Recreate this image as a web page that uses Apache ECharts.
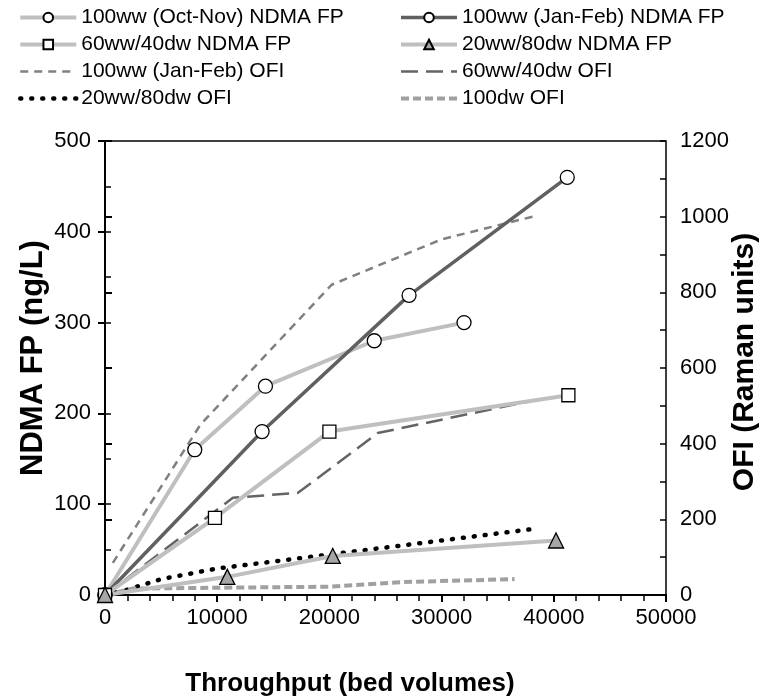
<!DOCTYPE html>
<html>
<head>
<meta charset="utf-8">
<script src="https://cdn.jsdelivr.net/npm/echarts@6/dist/echarts.min.js"></script>
<style>
html, body { margin: 0; padding: 0; background: #fff; }
#main { width: 768px; height: 698px; }
</style>
</head>
<body>
<div id="main"></div>
<script>
// NDMA FP (left axis, ng/L) vs throughput (bed volumes)
var ww100OctNdma = [[0, 0], [8000, 160], [14300, 230], [24000, 280], [32000, 300]];
var ww100JanNdma = [[0, 0], [14000, 180], [27100, 330], [41200, 460]];
var ww60Ndma = [[0, 0], [9800, 85], [20000, 180], [41300, 220]];
var ww20Ndma = [[0, 0], [10900, 20], [20300, 43], [40200, 60]];

// OFI (right axis, Raman units)
var ww100JanOfi = [[700, 85], [8500, 450], [20200, 820], [30000, 940], [38100, 1000]];
var ww60Ofi = [[0, 0], [11400, 257], [17200, 270], [24300, 428], [38800, 518]];
var ww20Ofi = [[0, 0], [2000, 14], [5000, 42], [10000, 70], [20000, 107], [30000, 144], [38300, 175]];
var dw100Ofi = [[0, 0], [2500, 17], [20000, 22], [26300, 34], [36500, 42]];

var names = [
    '100ww (Oct-Nov) NDMA FP', '100ww (Jan-Feb) NDMA FP',
    '60ww/40dw NDMA FP', '20ww/80dw NDMA FP',
    '100ww (Jan-Feb) OFI', '60ww/40dw OFI',
    '20ww/80dw OFI', '100dw OFI'
];

var font = 'Liberation Sans, Arial, sans-serif';
var axisColor = '#000';

var lineSeries = function (name, data, yIdx, color, width, type, symbol, size, fill) {
    return {
        name: name,
        type: 'line',
        data: data,
        yAxisIndex: yIdx,
        symbol: symbol || 'none',
        symbolSize: size || 0,
        showSymbol: !!symbol,
        animation: false,
        lineStyle: { color: color, width: width, type: type || 'solid', cap: type && type[0] === 1 ? 'round' : 'butt' },
        itemStyle: { color: fill || '#fff', borderColor: '#000', borderWidth: 1.3 },
        z: symbol ? 3 : 2
    };
};

// legend entries for the OFI lines carry no marker
var noMark = function (name) {
    return { name: name, itemStyle: { opacity: 0 } };
};

var plain = function (v) { return String(v); };

var legendText = { fontSize: 21, color: '#000', fontFamily: font };
var legendLine = { width: 'inherit', type: 'inherit', cap: 'inherit', color: 'inherit' };

var option = {
    backgroundColor: '#fff',
    textStyle: { fontFamily: font },
    grid: {
        left: 105, right: 102, top: 141, bottom: 103,
        outerBoundsMode: 'none',
        show: true, borderColor: '#000', borderWidth: 1.5, backgroundColor: 'transparent'
    },
    legend: [
        {
            orient: 'vertical', left: 13, top: 2, itemWidth: 56, itemHeight: 12, itemGap: 6,
            data: [names[0], names[2], noMark(names[4]), noMark(names[6])],
            textStyle: legendText, lineStyle: legendLine
        },
        {
            orient: 'vertical', left: 394, top: 2, itemWidth: 56, itemHeight: 12, itemGap: 6,
            data: [names[1], names[3], noMark(names[5]), noMark(names[7])],
            textStyle: legendText, lineStyle: legendLine
        }
    ],
    graphic: [
        {
            type: 'text', x: 33, y: 358, rotation: Math.PI / 2,
            style: { text: 'NDMA FP (ng/L)', font: 'bold 31px ' + font, fill: '#000', align: 'center', verticalAlign: 'middle' }
        },
        {
            type: 'text', x: 745, y: 362, rotation: Math.PI / 2,
            style: { text: 'OFI (Raman units)', font: 'bold 30px ' + font, fill: '#000', align: 'center', verticalAlign: 'middle' }
        },
        {
            type: 'text', x: 350, y: 684,
            style: { text: 'Throughput (bed volumes)', font: 'bold 26px ' + font, fill: '#000', align: 'center', verticalAlign: 'middle' }
        }
    ],
    xAxis: [
        {
            type: 'value', min: 0, max: 50000, interval: 10000,
            axisLine: { lineStyle: { color: axisColor, width: 2 } },
            axisTick: { length: 7, lineStyle: { color: axisColor, width: 2 } },
            axisLabel: { fontSize: 22, color: '#000', margin: 12, fontFamily: font, formatter: plain },
            splitLine: { show: false }
        },
        {
            type: 'value', min: 0, max: 50000, interval: 2000,
            axisLine: { show: false },
            axisTick: { inside: true, length: 6, lineStyle: { color: axisColor, width: 1.5 } },
            axisLabel: { show: false },
            splitLine: { show: false }
        }
    ],
    yAxis: [
        {
            type: 'value', min: 0, max: 500, interval: 100, position: 'left',
            axisLine: { show: true, lineStyle: { color: axisColor, width: 2 } },
            axisTick: { show: true, length: 7, lineStyle: { color: axisColor, width: 2 } },
            axisLabel: { fontSize: 22, color: '#000', margin: 14, fontFamily: font, formatter: plain },
            splitLine: { show: false }
        },
        {
            type: 'value', min: 0, max: 1200, interval: 200, position: 'right',
            axisLine: { show: true, lineStyle: { color: axisColor, width: 2 } },
            axisTick: { show: true, length: 7, lineStyle: { color: axisColor, width: 2 } },
            axisLabel: { fontSize: 22, color: '#000', margin: 14, fontFamily: font, formatter: plain },
            splitLine: { show: false }
        },
        {
            type: 'value', min: 0, max: 500, interval: 50, position: 'left',
            axisLine: { show: false },
            axisTick: { show: true, inside: true, length: 6, lineStyle: { color: axisColor, width: 1.5 } },
            axisLabel: { show: false },
            splitLine: { show: false }
        },
        {
            type: 'value', min: 0, max: 1200, interval: 100, position: 'right',
            axisLine: { show: false },
            axisTick: { show: true, inside: true, length: 6, lineStyle: { color: axisColor, width: 1.5 } },
            axisLabel: { show: false },
            splitLine: { show: false }
        }
    ],
    series: [
        lineSeries(names[4], ww100JanOfi, 1, '#808080', 2.5, [8, 6]),
        lineSeries(names[5], ww60Ofi, 1, '#646464', 2.5, [17, 8]),
        lineSeries(names[6], ww20Ofi, 1, '#000', 4.5, [1, 10]),
        lineSeries(names[7], dw100Ofi, 1, '#a0a0a0', 4, [8, 4]),
        lineSeries(names[0], ww100OctNdma, 0, '#bfbfbf', 4, 'solid', 'circle', 14),
        lineSeries(names[1], ww100JanNdma, 0, '#606060', 3.5, 'solid', 'circle', 14),
        lineSeries(names[2], ww60Ndma, 0, '#bfbfbf', 4, 'solid', 'rect', 13),
        lineSeries(names[3], ww20Ndma, 0, '#bfbfbf', 4, 'solid', 'triangle', 15, '#a6a6a6')
    ]
};

var myChart = echarts.init(document.getElementById('main'));
myChart.setOption(option);
</script>
</body>
</html>
